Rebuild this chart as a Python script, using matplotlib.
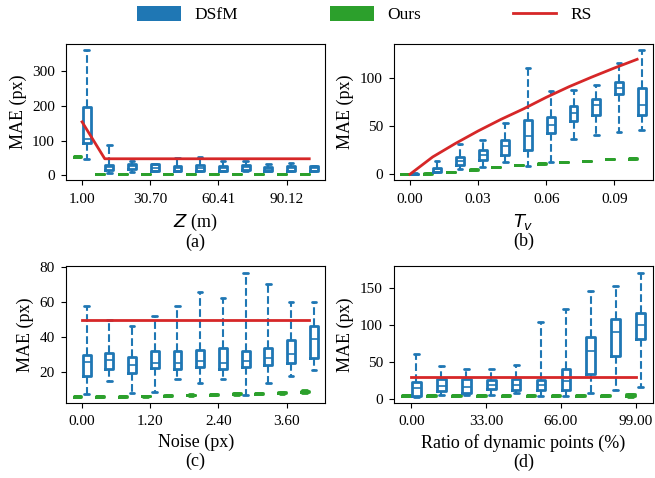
import matplotlib
matplotlib.use('Agg')
import matplotlib.pyplot as plt
from matplotlib.patches import Patch
from matplotlib.lines import Line2D

plt.rcParams['font.family'] = ['Liberation Serif', 'DejaVu Serif']
plt.rcParams['font.size'] = 12
plt.rcParams['axes.labelsize'] = 13
plt.rcParams['xtick.labelsize'] = 11
plt.rcParams['ytick.labelsize'] = 11
plt.rcParams['xtick.major.pad'] = 5.5
plt.rcParams['ytick.major.pad'] = 4.5

BLUE = '#1f77b4'
GREEN = '#2ca02c'
RED = '#d62728'

# box stats are (whisker low, q1, median, q3, whisker high)

# (a) depth Z
z_ticks = ['1.00', '30.70', '60.41', '90.12']
z_dsfm = [(46, 94, 106, 196, 360), (6, 15, 23, 30, 88), (9, 18, 26, 32, 43),
          (12, 13, 22, 32, 33), (13, 13, 21, 28, 51), (13, 13, 21, 30, 53),
          (13, 13, 21, 28, 43), (13, 15, 24, 30, 43), (13, 13, 20, 24, 33),
          (14, 14, 21, 26, 37), (14, 14, 22, 28, 28)]
z_ours = [(54, 54.5, 55, 55.5, 56)] + [(3.5, 3.7, 4, 4.3, 4.5)] * 10
z_rs = [154, 48, 48, 48, 48, 48, 48, 48, 48, 48, 48]

# (b) T_v
t_ticks = ['0.00', '0.03', '0.06', '0.09']
t_dsfm = [(0, 0, 0.3, 0.6, 1), (2.4, 2.8, 5.2, 7, 14.3), (5.6, 9.4, 14.3, 18.2, 31.8),
          (8, 15, 19.9, 24.8, 36), (13, 20, 29.7, 36, 53), (9, 25.5, 39.5, 56.6, 110),
          (13, 43, 51.4, 59.4, 86.4), (37, 55, 64, 71, 88), (41, 62, 72.4, 78.3, 93),
          (43.7, 83.6, 89.9, 95.8, 115.7), (46.5, 61.2, 72, 90.2, 129)]
t_ours = [(0, 0, 0, 0.1, 0.2), (0.5, 0.6, 0.7, 0.8, 0.9), (2.2, 2.3, 2.4, 2.5, 2.6),
          (4.7, 4.8, 4.9, 5, 5.1), (7.1, 7.2, 7.3, 7.4, 7.5), (9.2, 9.3, 9.4, 9.5, 9.6),
          (11, 11.1, 11.2, 11.3, 11.4), (12.4, 12.5, 12.6, 12.7, 12.8),
          (13.8, 13.9, 14, 14.1, 14.2), (15.5, 15.6, 15.7, 15.8, 15.9),
          (16.2, 16.3, 16.4, 16.5, 16.6)]
t_rs = [0, 18, 32, 45, 57, 68, 80, 91, 101, 110.5, 119.5]

# (c) noise
n_ticks = ['0.00', '1.20', '2.40', '3.60']
n_dsfm = [(6.8, 17.4, 25.3, 29.6, 58), (14.4, 21.6, 26.7, 30.8, 50), (7.8, 18.9, 23.8, 28.2, 46),
          (8.4, 22.2, 25.1, 31.6, 51.8), (15.8, 21.4, 24.7, 31.6, 57.6), (13.7, 22.6, 25.9, 32.3, 65.8),
          (16, 21.6, 25.1, 33.5, 62.3), (6.5, 22.8, 25.9, 31.7, 77), (13.7, 23.8, 27.7, 33.7, 70.7),
          (17.4, 25.1, 30, 38, 60), (21, 28, 38.8, 46.1, 60.2)]
n_ours = [(5.5, 5.6, 5.7, 5.8, 5.9), (5.5, 5.6, 5.7, 5.8, 5.9), (5.5, 5.6, 5.7, 5.8, 5.9),
          (5.6, 5.7, 5.9, 6.1, 6.2), (5.7, 5.9, 6.1, 6.3, 6.5), (6.1, 6.3, 6.5, 6.7, 6.9),
          (6.5, 6.7, 6.9, 7.1, 7.3), (6.6, 6.8, 7.1, 7.4, 7.6), (6.9, 7.1, 7.4, 7.7, 7.9),
          (7.2, 7.5, 7.8, 8.1, 8.4), (7.6, 8, 8.4, 8.8, 9.2)]
n_rs = [49.6] * 11

# (d) ratio of dynamic points
r_ticks = ['0.00', '33.00', '66.00', '99.00']
r_dsfm = [(3.6, 5, 15, 23.6, 61), (6, 10.9, 17.7, 27.7, 45), (5.5, 9, 17, 27.7, 40.5),
          (6, 13.6, 20, 25.5, 41), (8, 12.3, 20, 27.7, 46), (5, 12.7, 20, 26.4, 104.5),
          (4.5, 13.2, 24.5, 41.4, 122), (8, 34, 65.5, 84.5, 146), (12.3, 58, 90.5, 108.6, 153),
          (16, 81.8, 101, 116.4, 171)]
r_ours = [(4.8, 5, 5.3, 5.6, 5.8)] * 9 + [(3.5, 4, 5.5, 7, 7.5)]
r_rs = [30.5] * 10

panels = [
    (z_dsfm, z_ours, z_rs, z_ticks, '$Z$ (m)\n(a)'),
    (t_dsfm, t_ours, t_rs, t_ticks, '$T_v$\n(b)'),
    (n_dsfm, n_ours, n_rs, n_ticks, 'Noise (px)\n(c)'),
    (r_dsfm, r_ours, r_rs, r_ticks, 'Ratio of dynamic points (%)\n(d)'),
]


def to_stats(rows):
    return [dict(whislo=a, q1=b, med=c, q3=d, whishi=e, fliers=[]) for a, b, c, d, e in rows]


def draw_boxes(ax, rows, pos, color):
    ax.bxp(to_stats(rows), positions=pos, widths=0.35, capwidths=0.2, showfliers=False,
           boxprops=dict(color=color, linewidth=2),
           whiskerprops=dict(color=color, linewidth=1.5, linestyle='--'),
           capprops=dict(color=color, linewidth=2, solid_capstyle='round'),
           medianprops=dict(color=color, linewidth=1.2))


fig, axes = plt.subplots(2, 2, figsize=(6.55, 4.78), dpi=100)
plt.subplots_adjust(left=0.101, right=0.997, bottom=0.157, top=0.908, wspace=0.266, hspace=0.63)

for ax, (dsfm, ours, rs, ticks, xlabel) in zip(axes.flat, panels):
    idx = list(range(len(dsfm)))
    draw_boxes(ax, ours, [i - 0.2 for i in idx], GREEN)
    draw_boxes(ax, dsfm, [i + 0.2 for i in idx], BLUE)
    ax.plot(idx, rs, color=RED, linewidth=2, zorder=5)
    ax.set_xticks([0, 3, 6, 9], ticks)
    ax.set_xlabel(xlabel, linespacing=1.1)
    ax.set_ylabel('MAE (px)')

handles = [Patch(facecolor=BLUE), Patch(facecolor=GREEN), Line2D([], [], color=RED, linewidth=2)]
fig.legend(handles, ['DSfM', 'Ours', 'RS'], loc='center', ncol=3, mode='expand', frameon=False,
           bbox_to_anchor=(0.186, 0.94, 0.741, 0.058), handlelength=2.5, handleheight=0.9,
           fontsize=12.5)

fig.savefig('out.png', dpi=100)
